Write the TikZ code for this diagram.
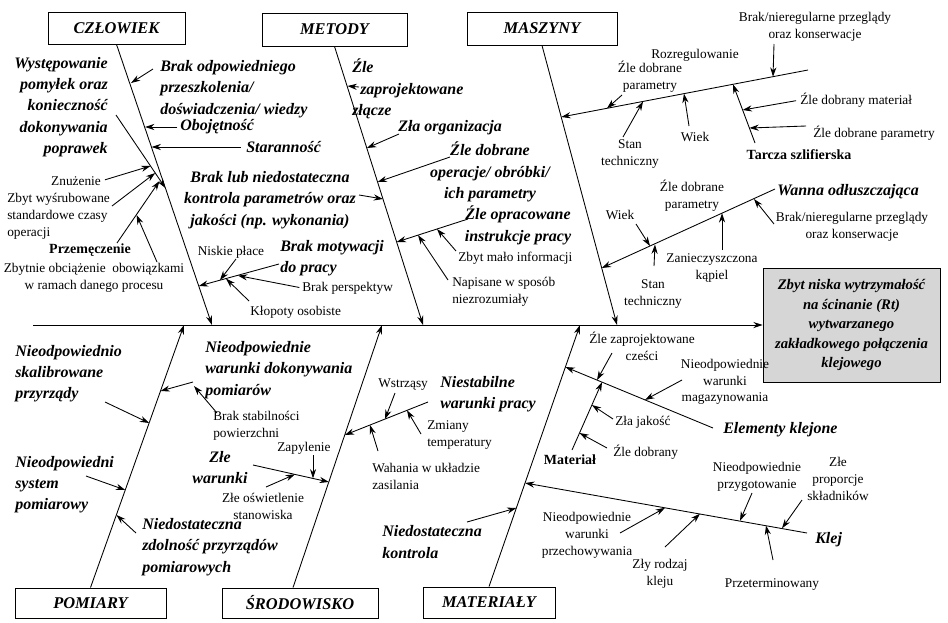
\documentclass[tikz,border=0pt]{standalone}
\usepackage{fontspec}
\setmainfont{Liberation Serif}
\usetikzlibrary{arrows.meta,calc}
\begin{document}
\begin{tikzpicture}[x=0.75pt,y=-0.75pt,
  ln/.style={line width=0.65pt},
  arr/.style={line width=0.65pt,-{Stealth[length=7pt,width=4.6pt]}},
  big/.style={font=\bfseries\itshape\fontsize{12}{16}\selectfont,inner sep=0pt},
  sm/.style={font=\fontsize{10}{12.6}\selectfont,inner sep=0pt},
  bsm/.style={font=\bfseries\fontsize{10.5}{12.6}\selectfont,inner sep=0pt},
  title/.style={draw,line width=0.65pt,font=\bfseries\itshape\fontsize{12.3}{15}\selectfont,inner sep=0pt},
]
\useasboundingbox (0,0) rectangle (948,622);

% ---------- heads ----------
\node[title,minimum width=102.75pt,minimum height=24pt] (hC) at (116.5,28) {CZŁOWIEK};
\node[title,minimum width=108.75pt,minimum height=24.75pt] (hM) at (334.5,29.5) {METODY};
\node[title,minimum width=112.5pt,minimum height=24.75pt] (hMa) at (542,28.5) {MASZYNY};
\node[title,minimum width=113.25pt,minimum height=22.5pt] (hP) at (90.5,603) {POMIARY};
\node[title,minimum width=117pt,minimum height=22.5pt] (hS) at (300,603) {ŚRODOWISKO};
\node[title,minimum width=99pt,minimum height=23.25pt] (hMt) at (489,602.5) {MATERIAŁY};
\node[draw,line width=0.65pt,fill=black!16,minimum width=132.75pt,minimum height=85.5pt,align=center,inner sep=0pt,font=\bfseries\itshape\fontsize{11}{14.6}\selectfont] (eff) at (851.5,325) {Zbyt niska wytrzymałość\\na ścinanie (Rt)\\wytwarzanego\\zakładkowego połączenia\\klejowego};

% ---------- spine and bones ----------
\coordinate (sp0) at (33,325);
\draw[arr] (sp0) -- (eff.west);
\coordinate (cC) at (212,325);
\draw[arr] (hC.south) -- (cC);
\coordinate (cM) at (423,325);
\draw[arr] (hM.south) -- (cM);
\coordinate (cMa) at (617,325);
\draw[arr] (hMa.south) -- (cMa);
\coordinate (cP) at (184,325);
\draw[arr] (hP.north) -- (cP);
\coordinate (bS) at ($(hS.north)+(-7,0)$);
\coordinate (cS) at (382,325);
\draw[arr] (bS) -- (cS);
\coordinate (cMt) at (580,325);
\draw[arr] (hMt.north) -- (cMt);

% ---------- CZLOWIEK ----------
\node[big,anchor=east,align=right] (tWys) at (108,107) {Występowanie\\pomyłek oraz\\konieczność\\dokonywania\\poprawek};
\coordinate (wA) at (116,115); \coordinate (wB) at (165.4,188);
\draw[arr] (wA) -- (wB);
\node[big,anchor=west,align=left] (tBrO) at (160,89) {Brak odpowiedniego\\przeszkolenia/\\doświadczenia/ wiedzy};
\coordinate (a1s) at (153,69); \coordinate (a1t) at (131,83);
\draw[arr] (a1s) -- (a1t);
\node[big,anchor=west] (tObo) at (180,127) {Obojętność};
\coordinate (a2t) at (145,127);
\draw[arr,shorten <=2pt] (tObo.west) -- (a2t);
\node[big,anchor=west] (tSta) at (246,147) {Staranność};
\coordinate (a3t) at (151.5,147);
\draw[arr,shorten <=4pt] (tSta.west) -- (a3t);
\node[sm] (tZnu) at (76,181) {Znużenie};
\coordinate (a4t) at (150.5,166);
\draw[arr,shorten <=3pt] (tZnu.east) -- (a4t);
\node[sm,anchor=west,align=left] (tZby) at (7,216) {Zbyt wyśrubowane\\standardowe czasy\\operacji};
\coordinate (a5s) at (112,206); \coordinate (a5t) at (155.2,173);
\draw[arr] (a5s) -- (a5t);
\node[bsm] (tPrz) at (90,250) {Przemęczenie};
\coordinate (prA) at (117,243); \coordinate (prB) at (159.5,181);
\draw[arr] (prA) -- (prB);
\node[sm,align=center] (tZbO) at (94,278) {Zbytnie obciążenie\ \ obowiązkami\\w ramach danego procesu};
\coordinate (a6s) at (157,262); \coordinate (a6t) at (136.6,215);
\draw[arr] (a6s) -- (a6t);
\node[big,anchor=west,align=left] (tBM) at (280,258) {Brak motywacji\\do pracy};
\coordinate (bmA) at (279,264); \coordinate (bmB) at (198.8,286);
\draw[arr] (bmA) -- (bmB);
\node[sm] (tNis) at (231,252) {Niskie płace};
\coordinate (a7s) at (236,259); \coordinate (a7t) at (220,280.1);
\draw[arr] (a7s) -- (a7t);
\node[sm,anchor=west] (tBrP) at (302,288) {Brak perspektyw};
\coordinate (a8t) at (238,275.6);
\draw[arr,shorten <=2pt] (tBrP.west) -- (a8t);
\node[sm,anchor=west] (tKlo) at (250,312) {Kłopoty osobiste};
\coordinate (a9s) at (249,301); \coordinate (a9t) at (226,278.6);
\draw[arr] (a9s) -- (a9t);

% ---------- METODY ----------
\node[big,anchor=west,align=left] (tZZ) at (352,89) {Źle\\\hspace*{6pt}zaprojektowane\\złącze};
\coordinate (m1s) at (359,87); \coordinate (m1t) at (347.5,86);
\draw[arr] (m1s) -- (m1t);
\node[big,anchor=west] (tZO) at (398,128) {Zła organizacja};
\coordinate (m2s) at (399,134); \coordinate (m2t) at (366.9,148);
\draw[arr] (m2s) -- (m2t);
\node[big,align=center] (tZD) at (490,172) {Źle dobrane\\operacje/ obróbki/\\ich parametry};
\coordinate (m3s) at (450,157); \coordinate (m3t) at (377.6,182);
\draw[arr] (m3s) -- (m3t);
\node[big,align=center] (tBL) at (270,200) {Brak lub niedostateczna\\kontrola parametrów oraz\\jakości (np. wykonania)};
\coordinate (m4s) at (359,195); \coordinate (m4t) at (383,199);
\draw[arr] (m4s) -- (m4t);
\node[big,align=center] (tEO) at (518,225.5) {Źle opracowane\\instrukcje pracy};
\coordinate (eoA) at (468,219); \coordinate (eoB) at (396.7,242);
\draw[arr] (eoA) -- (eoB);
\node[sm,anchor=west] (tZmi) at (458,258) {Zbyt mało informacji};
\coordinate (m5s) at (456,251); \coordinate (m5t) at (437,229);
\draw[arr] (m5s) -- (m5t);
\node[sm,anchor=west,align=left] (tNap) at (452,292) {Napisane w sposób\\niezrozumiały};
\coordinate (m6s) at (448,280); \coordinate (m6t) at (418,235.1);
\draw[arr] (m6s) -- (m6t);

% ---------- MASZYNY ----------
\coordinate (uA) at (808,70); \coordinate (uB) at (561.3,117);
\draw[arr] (uA) -- (uB);
\node[sm,align=center] (tBN1) at (815,27) {Brak/nieregularne przeglądy\\oraz konserwacje};
\coordinate (k1s) at (774,44); \coordinate (k1t) at (773,76.7);
\draw[arr] (k1s) -- (k1t);
\node[sm] (tRoz) at (695,55) {Rozregulowanie};
\node[sm,align=center] (tZDP1) at (650,77) {Źle dobrane\\parametry};
\coordinate (k2s) at (622,95); \coordinate (k2t) at (607,108.3);
\draw[arr] (k2s) -- (k2t);
\node[sm,align=center] (tST1) at (630,154) {Stan\\techniczny};
\coordinate (k3s) at (623,137); \coordinate (k3t) at (643,101.5);
\draw[arr] (k3s) -- (k3t);
\node[sm] (tWi1) at (695,137) {Wiek};
\coordinate (k4s) at (689,126); \coordinate (k4t) at (684,93.6);
\draw[arr] (k4s) -- (k4t);
\node[bsm] (tTS) at (799,155) {Tarcza szlifierska};
\coordinate (tsA) at (755,143); \coordinate (tsB) at (733,84.3);
\draw[arr] (tsA) -- (tsB);
\node[sm,anchor=west] (tZDM) at (800,100) {Źle dobrany materiał};
\coordinate (k5t) at (742.6,110);
\draw[arr,shorten <=3pt] (tZDM.west) -- (k5t);
\node[sm,anchor=west] (tZDP2) at (813,133) {Źle dobrane parametry};
\coordinate (k6s) at (806,126); \coordinate (k6t) at (749.4,128);
\draw[arr] (k6s) -- (k6t);

\node[big,anchor=west] (tWO) at (777,192) {Wanna odłuszczająca};
\coordinate (lA) at (775,189); \coordinate (lB) at (601.7,268);
\draw[arr] (lA) -- (lB);
\node[sm,align=center] (tZDP3) at (692,196) {Źle dobrane\\parametry};
\node[sm] (tWi2) at (620,215) {Wiek};
\coordinate (w1s) at (636,224); \coordinate (w1t) at (650,246);
\draw[arr] (w1s) -- (w1t);
\node[sm,align=center] (tST2) at (653,294) {Stan\\techniczny};
\coordinate (w2s) at (654,266); \coordinate (w2t) at (655,244.5);
\draw[arr] (w2s) -- (w2t);
\node[sm,align=center] (tZK) at (712,268) {Zanieczyszczona\\kąpiel};
\coordinate (w3s) at (722,250); \coordinate (w3t) at (722,213.2);
\draw[arr] (w3s) -- (w3t);
\node[sm,align=center] (tBN2) at (852,227) {Brak/nieregularne przeglądy\\oraz konserwacje};
\coordinate (w4s) at (774,224); \coordinate (w4t) at (754,199);
\draw[arr] (w4s) -- (w4t);

% ---------- POMIARY ----------
\node[big,anchor=west,align=left] (tNSk) at (15,373.5) {Nieodpowiednio\\skalibrowane\\przyrządy};
\coordinate (p1s) at (105,402); \coordinate (p1t) at (149.2,423);
\draw[arr] (p1s) -- (p1t);
\node[big,anchor=west,align=left] (tNSy) at (15,484.5) {Nieodpowiedni\\system\\pomiarowy};
\coordinate (p2s) at (86,476); \coordinate (p2t) at (125.3,490);
\draw[arr] (p2s) -- (p2t);
\node[big,anchor=west,align=left] (tNWD) at (205,370) {Nieodpowiednie\\warunki dokonywania\\pomiarów};
\coordinate (p3s) at (193,382); \coordinate (p3t) at (160.5,391);
\draw[arr] (p3s) -- (p3t);
\node[sm,anchor=west,align=left] (tBS) at (213,426) {Brak stabilności\\powierzchni};
\coordinate (p4s) at (217,413); \coordinate (p4t) at (194,386);
\draw[arr] (p4s) -- (p4t);
\node[big,anchor=west,align=left] (tNZP) at (142,547) {Niedostateczna\\zdolność przyrządów\\pomiarowych};
\coordinate (p5s) at (136,533); \coordinate (p5t) at (116.5,515);
\draw[arr] (p5s) -- (p5t);

% ---------- SRODOWISKO ----------
\node[big,align=center] (tZW) at (220,467.5) {Złe\\warunki};
\coordinate (zwA) at (253,465); \coordinate (zwB) at (328.9,482);
\draw[arr] (zwA) -- (zwB);
\node[sm,anchor=west] (tZap) at (277,448) {Zapylenie};
\coordinate (s1s) at (313,455); \coordinate (s1t) at (313,478.3);
\draw[arr] (s1s) -- (s1t);
\node[sm,align=center] (tZOS) at (263,506.5) {Złe oświetlenie\\stanowiska};
\coordinate (s2s) at (266,487); \coordinate (s2t) at (295,474.3);
\draw[arr] (s2s) -- (s2t);
\node[big,anchor=west,align=left] (tNWP) at (440,394) {Niestabilne\\warunki pracy};
\coordinate (nsA) at (428,402); \coordinate (nsB) at (344.8,435);
\draw[arr] (nsA) -- (nsB);
\node[sm,anchor=west] (tWst) at (378,385) {Wstrząsy};
\coordinate (s3s) at (395,393); \coordinate (s3t) at (385,419.1);
\draw[arr] (s3s) -- (s3t);
\node[sm,anchor=west,align=left] (tZmT) at (427,435) {Zmiany\\temperatury};
\coordinate (s4s) at (421,434); \coordinate (s4t) at (407,410.3);
\draw[arr] (s4s) -- (s4t);
\node[sm,anchor=west,align=left] (tWah) at (372,476.5) {Wahania w układzie\\zasilania};
\coordinate (s5s) at (378,451); \coordinate (s5t) at (370,425);
\draw[arr] (s5s) -- (s5t);

% ---------- MATERIALY ----------
\node[big,anchor=west,align=left] (tNK) at (382,542) {Niedostateczna\\kontrola};
\coordinate (t1s) at (467,522); \coordinate (t1t) at (516.4,508);
\draw[arr] (t1s) -- (t1t);
\coordinate (ekA) at (713,428); \coordinate (ekB) at (565.4,367);
\draw[arr] (ekA) -- (ekB);
\node[big,anchor=west] (tEK) at (723,430) {Elementy klejone};
\node[sm,align=center] (tZZC) at (642,346) {Źle zaprojektowane\\cześci};
\coordinate (t2s) at (612,353); \coordinate (t2t) at (597,380.1);
\draw[arr] (t2s) -- (t2t);
\node[sm,align=center] (tNWM) at (725,382) {Nieodpowiednie\\warunki\\magazynowania};
\coordinate (t3s) at (682,380); \coordinate (t3t) at (645,399.9);
\draw[arr] (t3s) -- (t3t);
\coordinate (maA) at (572,450); \coordinate (maB) at (602,382.1);
\draw[arr] (maA) -- (maB);
\node[bsm] (tMat) at (570,460) {Materiał};
\node[sm,anchor=west] (tZJ) at (615,422) {Zła jakość};
\coordinate (t4s) at (613,419); \coordinate (t4t) at (591.9,405);
\draw[arr] (t4s) -- (t4t);
\node[sm,anchor=west] (tZDy) at (613,452) {Źle dobrany};
\coordinate (t5s) at (607,448); \coordinate (t5t) at (579.5,433);
\draw[arr] (t5s) -- (t5t);
\coordinate (klA) at (807,533); \coordinate (klB) at (525.1,483);
\draw[arr] (klA) -- (klB);
\node[big,anchor=west] (tKl) at (815,540) {Klej};
\node[sm,align=center] (tNPr) at (757,477) {Nieodpowiednie\\przygotowanie};
\coordinate (t6s) at (752,493); \coordinate (t6t) at (740,520.8);
\draw[arr] (t6s) -- (t6t);
\node[sm,align=center] (tZPS) at (838,479) {Złe\\proporcje\\składników};
\coordinate (t7s) at (802,500); \coordinate (t7t) at (782,528.3);
\draw[arr] (t7s) -- (t7t);
\node[sm] (tPrzt) at (772,585) {Przeterminowany};
\coordinate (t8s) at (773,560); \coordinate (t8t) at (766,525.5);
\draw[arr] (t8s) -- (t8t);
\node[sm,align=center] (tZRK) at (660,573.5) {Zły rodzaj\\kleju};
\coordinate (t9s) at (665,547); \coordinate (t9t) at (700,513.7);
\draw[arr] (t9s) -- (t9t);
\node[sm,align=center] (tNWP2) at (587,535.5) {Nieodpowiednie\\warunki\\przechowywania};
\coordinate (t10s) at (620,533); \coordinate (t10t) at (665,507.8);
\draw[arr] (t10s) -- (t10t);
\end{tikzpicture}
\end{document}
